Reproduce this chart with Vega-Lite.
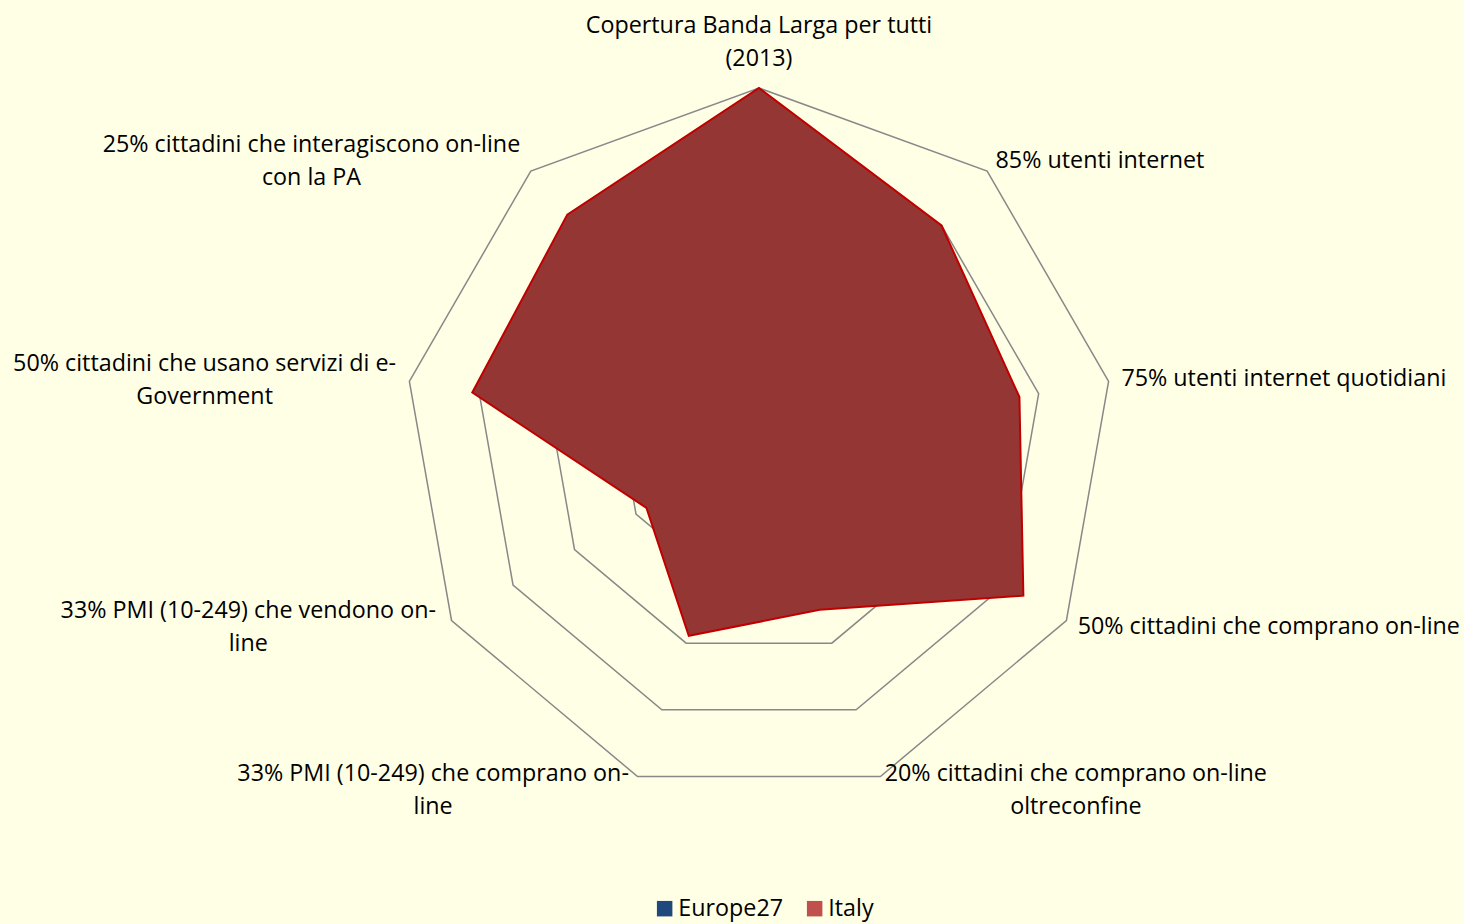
{
  "$schema": "https://vega.github.io/schema/vega-lite/v6.json",
  "width": 1464,
  "height": 924,
  "autosize": {"type": "none"},
  "padding": 0,
  "background": "#FFFFE6",
  "config": {
    "view": {"stroke": null},
    "text": {"font": "Open Sans", "fontSize": 23.3, "color": "#000000"}
  },
  "datasets": {
    "cats": [
      {"k": 0, "label": "Copertura Banda Larga per tutti\n(2013)"},
      {"k": 1, "label": "85% utenti internet"},
      {"k": 2, "label": "75% utenti internet quotidiani"},
      {"k": 3, "label": "50% cittadini che comprano on-line"},
      {"k": 4, "label": "20% cittadini che comprano on-line\noltreconfine"},
      {"k": 5, "label": "33% PMI (10-249) che comprano on-\nline"},
      {"k": 6, "label": "33% PMI (10-249) che vendono on-\nline"},
      {"k": 7, "label": "50% cittadini che usano servizi di e-\nGovernment"},
      {"k": 8, "label": "25% cittadini che interagiscono on-line\ncon la PA"}
    ],
    "scores": [
      {"series": "Italy", "k": 0, "value": 1.0},
      {"series": "Italy", "k": 1, "value": 0.8},
      {"series": "Italy", "k": 2, "value": 0.745},
      {"series": "Italy", "k": 3, "value": 0.86},
      {"series": "Italy", "k": 4, "value": 0.5},
      {"series": "Italy", "k": 5, "value": 0.578},
      {"series": "Italy", "k": 6, "value": 0.366},
      {"series": "Italy", "k": 7, "value": 0.82},
      {"series": "Italy", "k": 8, "value": 0.84}
    ],
    "grid": [
      {"level": 0.2, "k": [0, 1, 2, 3, 4, 5, 6, 7, 8]},
      {"level": 0.4, "k": [0, 1, 2, 3, 4, 5, 6, 7, 8]},
      {"level": 0.6, "k": [0, 1, 2, 3, 4, 5, 6, 7, 8]},
      {"level": 0.8, "k": [0, 1, 2, 3, 4, 5, 6, 7, 8]},
      {"level": 1.0, "k": [0, 1, 2, 3, 4, 5, 6, 7, 8]}
    ]
  },
  "layer": [
    {
      "data": {"name": "grid"},
      "transform": [
        {"flatten": ["k"]},
        {"calculate": "datum.k * 2 * PI / 9", "as": "a"},
        {"calculate": "datum.level * sin(datum.a)", "as": "px"},
        {"calculate": "datum.level * cos(datum.a)", "as": "py"}
      ],
      "mark": {"type": "line", "interpolate": "linear-closed", "stroke": "#888888", "strokeWidth": 1.5},
      "encoding": {
        "x": {"field": "px", "type": "quantitative", "scale": {"domain": [-2.138, 1.986], "nice": false, "zero": false}, "axis": null},
        "y": {"field": "py", "type": "quantitative", "scale": {"domain": [-1.355, 1.248], "nice": false, "zero": false}, "axis": null},
        "detail": {"field": "level", "type": "nominal"},
        "order": {"field": "k", "type": "quantitative"}
      }
    },
    {
      "data": {"name": "scores"},
      "transform": [
        {"calculate": "datum.k * 2 * PI / 9", "as": "a"},
        {"calculate": "datum.value * sin(datum.a)", "as": "px"},
        {"calculate": "datum.value * cos(datum.a)", "as": "py"}
      ],
      "mark": {"type": "line", "interpolate": "linear-closed", "fill": "#943634", "stroke": "#C00000", "strokeWidth": 2},
      "encoding": {
        "x": {"field": "px", "type": "quantitative", "axis": null},
        "y": {"field": "py", "type": "quantitative", "axis": null},
        "detail": {"field": "series", "type": "nominal"},
        "order": {"field": "k", "type": "quantitative"}
      }
    },
    {
      "data": {"name": "scores"},
      "transform": [
        {"calculate": "datum.k * 2 * PI / 9", "as": "a"},
        {"calculate": "datum.value * sin(datum.a)", "as": "px"},
        {"calculate": "datum.value * cos(datum.a)", "as": "py"}
      ],
      "mark": {"type": "point", "filled": true, "opacity": 0},
      "encoding": {
        "x": {"field": "px", "type": "quantitative", "axis": null},
        "y": {"field": "py", "type": "quantitative", "axis": null},
        "color": {
          "field": "series",
          "type": "nominal",
          "scale": {"domain": ["Europe27", "Italy"], "range": ["#1F497D", "#C0504D"]},
          "legend": {
            "orient": "none",
            "legendX": 653,
            "legendY": 897,
            "direction": "horizontal",
            "title": null,
            "symbolType": "square",
            "symbolSize": 240,
            "symbolStrokeWidth": 0,
            "symbolOpacity": 1,
            "labelFont": "Open Sans",
            "labelFontSize": 23.3,
            "labelColor": "#000000",
            "labelOffset": 2,
            "columnPadding": 19,
            "padding": 0
          }
        }
      }
    },
    {
      "data": {"name": "cats"},
      "transform": [
        {"calculate": "datum.k * 2 * PI / 9", "as": "a"},
        {"calculate": "1.0366 * sin(datum.a)", "as": "px"},
        {"calculate": "1.0366 * cos(datum.a)", "as": "py"}
      ],
      "encoding": {
        "x": {"field": "px", "type": "quantitative", "axis": null},
        "y": {"field": "py", "type": "quantitative", "axis": null},
        "text": {"field": "label", "type": "nominal"}
      },
      "layer": [
        {
          "transform": [{"filter": "datum.k == 0"}],
          "mark": {"type": "text", "align": "center", "baseline": "bottom", "dy": -37, "lineBreak": "\n", "lineHeight": 33}
        },
        {
          "transform": [{"filter": "datum.k >= 1 && datum.k <= 3"}],
          "mark": {"type": "text", "align": "left", "baseline": "middle", "lineBreak": "\n", "lineHeight": 33}
        },
        {
          "transform": [{"filter": "datum.k == 4"}],
          "mark": {"type": "text", "align": "center", "baseline": "middle", "dx": 191, "dy": -15, "lineBreak": "\n", "lineHeight": 33}
        },
        {
          "transform": [{"filter": "datum.k == 5"}],
          "mark": {"type": "text", "align": "center", "baseline": "middle", "dx": -200, "dy": -15, "lineBreak": "\n", "lineHeight": 33}
        },
        {
          "transform": [{"filter": "datum.k == 6 || datum.k == 7"}],
          "mark": {"type": "text", "align": "center", "baseline": "middle", "dx": -192, "dy": -15.5, "lineBreak": "\n", "lineHeight": 33}
        },
        {
          "transform": [{"filter": "datum.k == 8"}],
          "mark": {"type": "text", "align": "center", "baseline": "middle", "dx": -211, "dy": -16, "lineBreak": "\n", "lineHeight": 33}
        }
      ]
    }
  ]
}
